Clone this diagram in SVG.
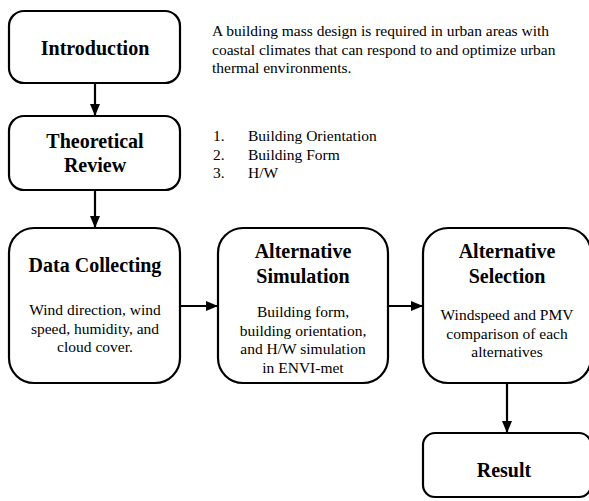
<svg xmlns="http://www.w3.org/2000/svg" width="589" height="501" viewBox="0 0 589 501">
<style>
.box{fill:#fff;stroke:#000;stroke-width:2.2}
.t{font-family:"Liberation Serif","Times New Roman",serif;font-weight:bold;font-size:20px;text-anchor:middle;fill:#000}
.b{font-family:"Liberation Serif","Times New Roman",serif;font-size:15.5px;text-anchor:middle;fill:#000}
.p{font-family:"Liberation Serif","Times New Roman",serif;font-size:15.5px;fill:#000}
.c{stroke:#000;stroke-width:2.2;fill:none}
</style>
<defs>
<marker id="ah" viewBox="0 0 12 10" refX="12" refY="5" markerWidth="12" markerHeight="10" markerUnits="userSpaceOnUse" orient="auto">
<path d="M0,0 L12,5 L0,10 Z" fill="#000"/>
</marker>
</defs>
<rect width="589" height="501" fill="#fff"/>
<g id="connectors">
<line class="c" x1="95" y1="83" x2="95" y2="116" marker-end="url(#ah)"/>
<line class="c" x1="95" y1="190" x2="95" y2="228" marker-end="url(#ah)"/>
<line class="c" x1="180" y1="306" x2="218" y2="306" marker-end="url(#ah)"/>
<line class="c" x1="388" y1="306" x2="423" y2="306" marker-end="url(#ah)"/>
<line class="c" x1="507" y1="383" x2="507" y2="433" marker-end="url(#ah)"/>
</g>
<g id="introduction">
<rect class="box" x="9" y="11" width="171" height="72" rx="15"/>
<text class="t" x="95" y="55">Introduction</text>
</g>
<g id="intro-note">
<text class="p" x="212" y="36">A building mass design is required in urban areas with</text>
<text class="p" x="212" y="54.5">coastal climates that can respond to and optimize urban</text>
<text class="p" x="212" y="73">thermal environments.</text>
</g>
<g id="theoretical-review">
<rect class="box" x="9" y="116" width="171" height="74" rx="15"/>
<text class="t" x="95" y="148">Theoretical</text>
<text class="t" x="95" y="172">Review</text>
</g>
<g id="review-list">
<text class="p" x="213" y="141">1.</text><text class="p" x="248" y="141">Building Orientation</text>
<text class="p" x="213" y="159.5">2.</text><text class="p" x="248" y="159.5">Building Form</text>
<text class="p" x="213" y="178">3.</text><text class="p" x="248" y="178">H/W</text>
</g>
<g id="data-collecting">
<rect class="box" x="9" y="228" width="171" height="155" rx="25"/>
<text class="t" x="95" y="272">Data Collecting</text>
<text class="b" x="95" y="315">Wind direction, wind</text>
<text class="b" x="95" y="333.5">speed, humidity, and</text>
<text class="b" x="95" y="352">cloud cover.</text>
</g>
<g id="alternative-simulation">
<rect class="box" x="218" y="228" width="170" height="155" rx="25"/>
<text class="t" x="303" y="258">Alternative</text>
<text class="t" x="303" y="283">Simulation</text>
<text class="b" x="303" y="317">Building form,</text>
<text class="b" x="303" y="335.5">building orientation,</text>
<text class="b" x="303" y="354">and H/W simulation</text>
<text class="b" x="303" y="372.5">in ENVI-met</text>
</g>
<g id="alternative-selection">
<rect class="box" x="423" y="228" width="168" height="155" rx="25"/>
<text class="t" x="507" y="258">Alternative</text>
<text class="t" x="507" y="283">Selection</text>
<text class="b" x="507" y="320">Windspeed and PMV</text>
<text class="b" x="507" y="338.5">comparison of each</text>
<text class="b" x="507" y="357">alternatives</text>
</g>
<g id="result">
<rect class="box" x="423" y="433" width="168" height="64" rx="12"/>
<text class="t" x="504" y="477">Result</text>
</g>
</svg>
